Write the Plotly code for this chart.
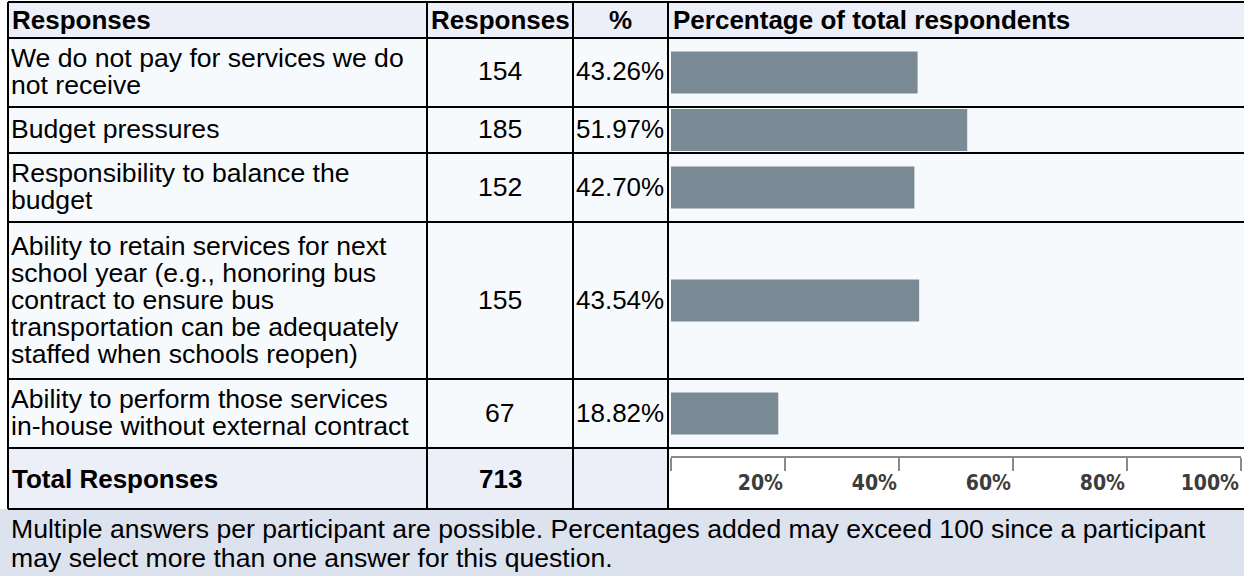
import plotly.graph_objects as go

# ---- data ----
answer_labels = [
    "We do not pay for services we do\nnot receive",
    "Budget pressures",
    "Responsibility to balance the\nbudget",
    "Ability to retain services for next\nschool year (e.g., honoring bus\ncontract to ensure bus\n"
    "transportation can be adequately\nstaffed when schools reopen)",
    "Ability to perform those services\nin-house without external contract",
]
response_counts = [154, 185, 152, 155, 67]
response_pcts = [43.26, 51.97, 42.70, 43.54, 18.82]
total_label = "Total Responses"
total_responses = 713
header_labels = ["Responses", "Responses", "%", "Percentage of total respondents"]
scale_ticks = [0, 20, 40, 60, 80, 100]
scale_ticklabels = ["", "20%", "40%", "60%", "80%", "100%"]
footnote_lines = [
    "Multiple answers per participant are possible. Percentages added may exceed 100 since a participant",
    "may select more than one answer for this question.",
]

# ---- table geometry (pixels from the top-left corner) ----
W, H = 1244, 576
COL_X = [8, 427, 573, 668, 1244]
TABLE_TOP = 2
HEADER_H = 36
ROW_H = [69, 46, 69, 157, 69]
TOTAL_H = 61
LINE_GAP = 27
FOOT_GAP = 29
BAR_THICKNESS = 42
SCALE_LEFT, SCALE_RIGHT = 671, 1241

FONT = "Liberation Sans, Arial, sans-serif"
TEXT_SIZE = 26.6
HEADER_SIZE = 26
HEADER_BG = "#eceef8"
BODY_BG = "#f7fafd"
FOOT_BG = "#dde2ef"
BAR_COLOR = "#7a8a94"


def px(x):
    return x / W


def py(y):
    return 1 - y / H


header_bottom = TABLE_TOP + HEADER_H
row_edges = [header_bottom]
for h in ROW_H:
    row_edges.append(row_edges[-1] + h)
body_bottom = row_edges[-1]
total_bottom = body_bottom + TOTAL_H
row_centres = [(a + b) / 2 for a, b in zip(row_edges[:-1], row_edges[1:])]

shapes = []
annotations = []


def rect(x0, y0, x1, y1, color):
    shapes.append(dict(type="rect", xref="paper", yref="paper",
                       x0=px(x0), x1=px(x1), y0=py(y1), y1=py(y0),
                       fillcolor=color, line=dict(width=0), layer="below"))


def hline(y, x0=COL_X[0], x1=W, width=2):
    shapes.append(dict(type="line", xref="paper", yref="paper",
                       x0=px(x0), x1=px(x1), y0=py(y), y1=py(y),
                       line=dict(color="black", width=width), layer="above"))


def vline(x, y0, y1, width=2):
    shapes.append(dict(type="line", xref="paper", yref="paper",
                       x0=px(x), x1=px(x), y0=py(y0), y1=py(y1),
                       line=dict(color="black", width=width), layer="above"))


def text(lines, x, yc, anchor="left", bold=False, size=TEXT_SIZE, color="black", gap=LINE_GAP):
    if isinstance(lines, str):
        lines = lines.split("\n")
    n = len(lines)
    for i, line in enumerate(lines):
        y = yc + (i - (n - 1) / 2) * gap
        annotations.append(dict(
            xref="paper", yref="paper", x=px(x), y=py(y),
            xanchor=anchor, yanchor="middle", showarrow=False,
            text=line,
            font=dict(family=FONT, size=size, color=color,
                      weight=700 if bold else 400),
        ))


# backgrounds
rect(COL_X[0], TABLE_TOP, W, header_bottom, HEADER_BG)
rect(COL_X[0], header_bottom, W, body_bottom, BODY_BG)
rect(COL_X[0], body_bottom, COL_X[3], total_bottom, HEADER_BG)
rect(COL_X[3], body_bottom, W, total_bottom, "#ffffff")
rect(0, total_bottom, W, H, FOOT_BG)

# grid lines
for y in [TABLE_TOP, header_bottom] + row_edges[1:] + [total_bottom]:
    hline(y)
for x in COL_X[:4]:
    vline(x, TABLE_TOP, total_bottom)

# header
hc = (TABLE_TOP + header_bottom) / 2
text(header_labels[0], COL_X[0] + 2, hc, bold=True, size=HEADER_SIZE)
text(header_labels[1], (COL_X[1] + COL_X[2]) / 2, hc, anchor="center", bold=True, size=HEADER_SIZE)
text(header_labels[2], (COL_X[2] + COL_X[3]) / 2, hc, anchor="center", bold=True, size=HEADER_SIZE)
text(header_labels[3], COL_X[3] + 3, hc, bold=True, size=HEADER_SIZE)

# body rows
for label, count, pct, yc in zip(answer_labels, response_counts, response_pcts, row_centres):
    text(label, COL_X[0] + 1, yc - 1)
    text(str(count), (COL_X[1] + COL_X[2]) / 2, yc - 1, anchor="center")
    text(f"{pct:.2f}%", COL_X[2] + 1, yc - 1, size=26)

# total row
tc = (body_bottom + total_bottom) / 2
text(total_label, COL_X[0] + 2, tc, bold=True, size=HEADER_SIZE)
text(str(total_responses), (COL_X[1] + COL_X[2]) / 2, tc, anchor="center", bold=True, size=HEADER_SIZE)

# footnote
text(footnote_lines, COL_X[0] + 1, (total_bottom + H) / 2 + 1, gap=FOOT_GAP)

fig = go.Figure(go.Bar(
    x=response_pcts,
    y=row_centres,
    orientation="h",
    width=BAR_THICKNESS,
    marker=dict(color=BAR_COLOR, line=dict(width=0)),
    hoverinfo="skip",
))

fig.update_layout(
    width=W, height=H,
    margin=dict(l=0, r=0, t=0, b=0),
    paper_bgcolor="#ffffff",
    plot_bgcolor="rgba(0,0,0,0)",
    showlegend=False,
    shapes=shapes,
    annotations=annotations,
    xaxis=dict(
        domain=[px(SCALE_LEFT), px(SCALE_RIGHT)],
        range=[0, 100],
        anchor="free",
        position=py(body_bottom + 9),
        showline=True, linecolor="#8a8a8a", linewidth=2,
        ticks="outside", ticklen=13, tickwidth=2, tickcolor="#8a8a8a",
        tickvals=scale_ticks, ticktext=scale_ticklabels,
        ticklabelposition="outside left",
        ticklabelstandoff=7,
        tickfont=dict(family="Liberation Sans Narrow, DejaVu Sans Condensed, sans-serif",
                      size=21, color="#3c3c3c", weight=700),
        showgrid=False, zeroline=False, fixedrange=True,
    ),
    yaxis=dict(
        domain=[py(body_bottom), py(header_bottom)],
        range=[body_bottom, header_bottom],
        visible=False, showgrid=False, zeroline=False, fixedrange=True,
    ),
)

fig.write_html("out.html", config={"displayModeBar": False})
